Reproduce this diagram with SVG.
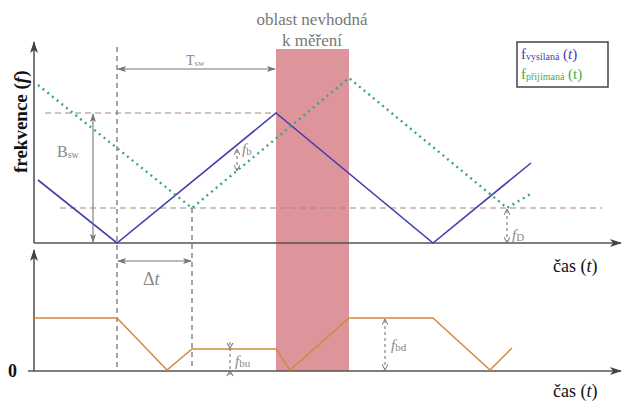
<svg xmlns="http://www.w3.org/2000/svg" width="631" height="402" viewBox="0 0 631 402" font-family="'Liberation Serif', 'Times New Roman', 'DejaVu Serif', serif">
<defs>
<marker id="ax" markerWidth="12" markerHeight="8" refX="11" refY="4" orient="auto" markerUnits="userSpaceOnUse"><path d="M0,0 L12,4 L0,8 L3,4 Z" fill="#444"/></marker>
<marker id="ga" markerWidth="9" markerHeight="6" refX="8" refY="3" orient="auto-start-reverse" markerUnits="userSpaceOnUse"><path d="M0,0 L9,3 L0,6 L2,3 Z" fill="#777"/></marker>
<marker id="sa" markerWidth="6" markerHeight="6" refX="5" refY="3" orient="auto-start-reverse" markerUnits="userSpaceOnUse"><path d="M0,0 L6,3 L0,6" fill="none" stroke="#777" stroke-width="1"/></marker>
</defs>
<style>
text{font-family:'Liberation Serif','Times New Roman',serif}
.axis{stroke:#555;stroke-width:1.6;fill:none}
.hd{stroke:#a8877a;stroke-width:1;stroke-dasharray:6,4;fill:none}
.vd{stroke:#6f6666;stroke-width:1.2;stroke-dasharray:5,4;fill:none}
.tx{stroke:#4a3cae;stroke-width:1.6;fill:none}
.rx{stroke:#3aa482;stroke-width:2.4;stroke-dasharray:2,4;fill:none}
.beat{stroke:#d4883a;stroke-width:1.5;fill:none}
.dim{stroke:#777;stroke-width:1.1;fill:none}
.ddim{stroke:#777;stroke-width:1.1;stroke-dasharray:3,3;fill:none}
.lbl{fill:#888;font-size:14px}
.ital{fill:#888;font-size:15px;font-style:italic}
.axl{fill:#111;font-size:18px}
</style>
<rect id="zone" x="276" y="49" width="73" height="322" fill="#dd959b"/>
<g id="zone-label" text-anchor="middle" fill="#777" font-size="17">
<text x="312" y="25">oblast nevhodná</text>
<text x="312" y="46">k měření</text>
</g>
<g id="axes">
<line class="axis" x1="34" y1="243" x2="34" y2="42" marker-end="url(#ax)"/>
<line class="axis" x1="34" y1="243" x2="621" y2="243" marker-end="url(#ax)"/>
<line class="axis" x1="34" y1="371" x2="34" y2="250" marker-end="url(#ax)"/>
<line class="axis" x1="28" y1="371" x2="621" y2="371" marker-end="url(#ax)"/>
</g>
<g id="guides">
<line class="hd" x1="45" y1="113" x2="276" y2="113"/>
<line class="hd" x1="60" y1="208" x2="602" y2="208"/>
<line class="vd" x1="117" y1="47" x2="117" y2="368"/>
<line class="vd" x1="192" y1="208" x2="192" y2="368"/>
</g>
<g id="signals">
<polyline class="tx" points="38,180 117,243 276,113 433,243 531,163"/>
<polyline class="rx" points="38,85 192,208 349,78 507,208 532,193"/>
<polyline class="beat" points="34,318 117,318 167,370 192,349 276,349 290,370 349,318 433,318 490,370 512,348"/>
</g>
<g id="dimensions">
<line class="dim" x1="118" y1="69" x2="275" y2="69" marker-start="url(#ga)" marker-end="url(#ga)"/>
<line class="dim" x1="93" y1="114" x2="93" y2="242" marker-start="url(#ga)" marker-end="url(#ga)"/>
<line class="dim" x1="118" y1="261" x2="191" y2="261" marker-start="url(#ga)" marker-end="url(#ga)"/>
<line class="ddim" x1="237" y1="150" x2="237" y2="170" marker-start="url(#sa)" marker-end="url(#sa)"/>
<line class="ddim" x1="507" y1="210" x2="507" y2="242" marker-start="url(#sa)" marker-end="url(#sa)"/>
<line class="ddim" x1="385" y1="320" x2="385" y2="369" marker-start="url(#sa)" marker-end="url(#sa)"/>
<line class="ddim" x1="230" y1="342" x2="230" y2="376"/>
<path d="M227,343 L230,348 L233,343 M227,376 L230,371 L233,376" class="dim"/>
</g>
<g id="dim-labels">
<text class="lbl" x="186" y="65">T<tspan font-size="9" dy="1">sw</tspan></text>
<text class="lbl" x="57" y="157" style="font-size:16px">B<tspan font-size="10" dy="1">sw</tspan></text>
<text class="ital" x="242" y="154">f<tspan font-size="11" font-style="normal" dy="1">b</tspan></text>
<text class="ital" x="512" y="240">f<tspan font-size="11" font-style="normal" dy="1">D</tspan></text>
<text class="lbl" x="143" y="285" style="font-size:18px">Δ<tspan font-style="italic">t</tspan></text>
<text class="ital" x="235" y="366">f<tspan font-size="11" font-style="normal" dy="1">bu</tspan></text>
<text class="ital" x="391" y="350">f<tspan font-size="11" font-style="normal" dy="1">bd</tspan></text>
</g>
<g id="axis-labels">
<text class="axl" font-weight="bold" font-size="19" transform="translate(27,173) rotate(-90)" style="font-size:19px">frekvence (<tspan font-style="italic">f</tspan>)</text>
<text class="axl" x="553" y="272">čas (<tspan font-style="italic">t</tspan>)</text>
<text class="axl" x="553" y="397">čas (<tspan font-style="italic">t</tspan>)</text>
<text class="axl" font-weight="bold" x="8" y="377">0</text>
</g>
<g id="legend">
<rect x="517" y="42" width="91" height="45" fill="#fff" stroke="#444" stroke-width="1.5"/>
<text x="521" y="59" font-size="15" fill="#4a3cae">f<tspan font-size="10" dy="1">vysílaná</tspan><tspan dy="-1"> (<tspan font-style="italic">t</tspan>)</tspan></text>
<text x="521" y="79" font-size="15" fill="#3fae49">f<tspan font-size="10" dy="1">přijímaná</tspan><tspan dy="-1"> (t)</tspan></text>
</g>
</svg>
